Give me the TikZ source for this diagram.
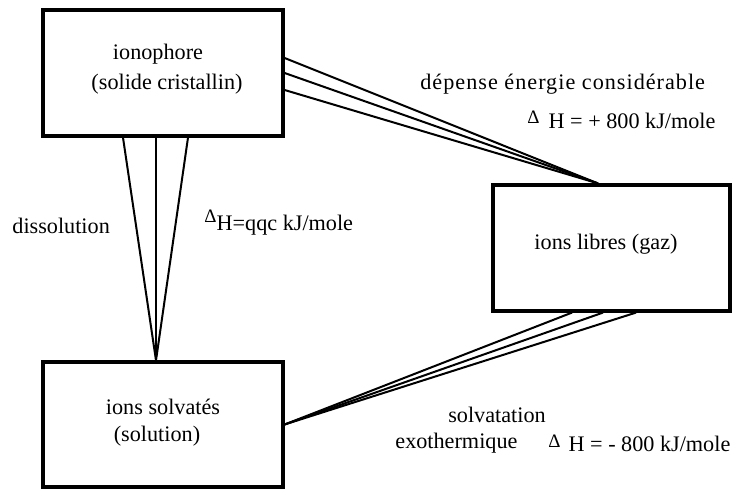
\documentclass[tikz,border=0pt]{standalone}
\usepackage{fontspec}
\setmainfont{Liberation Serif}
\tikzset{
  box/.style={draw, line width=1.6pt, fill=white, inner sep=0pt, minimum width=#1},
  link/.style={line width=1pt},
  txt/.style={inner sep=0pt, font=\fontsize{11.1}{13}\selectfont},
}
\newcommand{\dl}[1]{\raisebox{#1}{\fontsize{9.5}{9.5}\selectfont Δ}}
\begin{document}
\begin{tikzpicture}[x=0.5pt,y=-0.5pt]
\useasboundingbox (0,0) rectangle (739,490);
% boxes
\node[box=120pt, minimum height=63pt] (A) at (163,73) {};
\node[box=120pt, minimum height=62.5pt] (C) at (163,424.5) {};
\node[box=118.5pt, minimum height=63pt] (B) at (611.5,248) {};
% connectors A -> C
\draw[link] ([xshift=-20pt]A.south) -- ([xshift=-3.5pt]C.north);
\draw[link] ([xshift=-3.5pt]A.south) -- ([xshift=-3.5pt]C.north);
\draw[link] ([xshift=12.5pt]A.south) -- ([xshift=-3.5pt]C.north);
% connectors A -> B
\draw[link] ([yshift=7.5pt]A.east) -- ([xshift=-6.75pt]B.north);
\draw[link] (A.east) -- ([xshift=-6.75pt]B.north);
\draw[link] ([yshift=-8.5pt]A.east) -- ([xshift=-6.75pt]B.north);
% connectors B -> C
\draw[link] ([xshift=-19.75pt]B.south) -- (C.east);
\draw[link] ([xshift=-4.25pt]B.south) -- (C.east);
\draw[link] ([xshift=12.25pt]B.south) -- (C.east);
% redraw borders on top
\node[box=120pt, minimum height=63pt, fill=none] (A2) at (163,73) {};
\node[box=120pt, minimum height=62.5pt, fill=none] (C2) at (163,424.5) {};
\node[box=118.5pt, minimum height=63pt, fill=none] (B2) at (611.5,248) {};
% box texts
\node[txt, anchor=base] (ta1) at (158,60) {ionophore};
\node[txt, anchor=base] (ta2) at (167,90) {(solide cristallin)};
\node[txt, anchor=base] (tc1) at (163,415) {ions solvatés};
\node[txt, anchor=base] (tc2) at (157,442) {(solution)};
\node[txt, anchor=base] (tb) at (606,250) {ions libres (gaz)};
% labels
\node[txt, anchor=base west] (l1) at (420,90) {\addfontfeature{LetterSpace=4.5}dépense énergie considérable};
\node[txt, anchor=base west] (l2) at (527,129) {\dl{2.5pt}\hspace{4.5pt}H = + 800 kJ/mole};
\node[txt, anchor=base west] (l3) at (12,234) {dissolution};
\node[txt, anchor=base west] (l4) at (204,231) {\dl{4pt}H=qqc kJ/mole};
\node[txt, anchor=base] (l5) at (497,423) {solvatation};
\node[txt, anchor=base west] (l6) at (395,449) {exothermique};
\node[txt, anchor=base west] (l7) at (548,452) {\dl{2pt}\hspace{4pt}H = - 800 kJ/mole};
\end{tikzpicture}
\end{document}
